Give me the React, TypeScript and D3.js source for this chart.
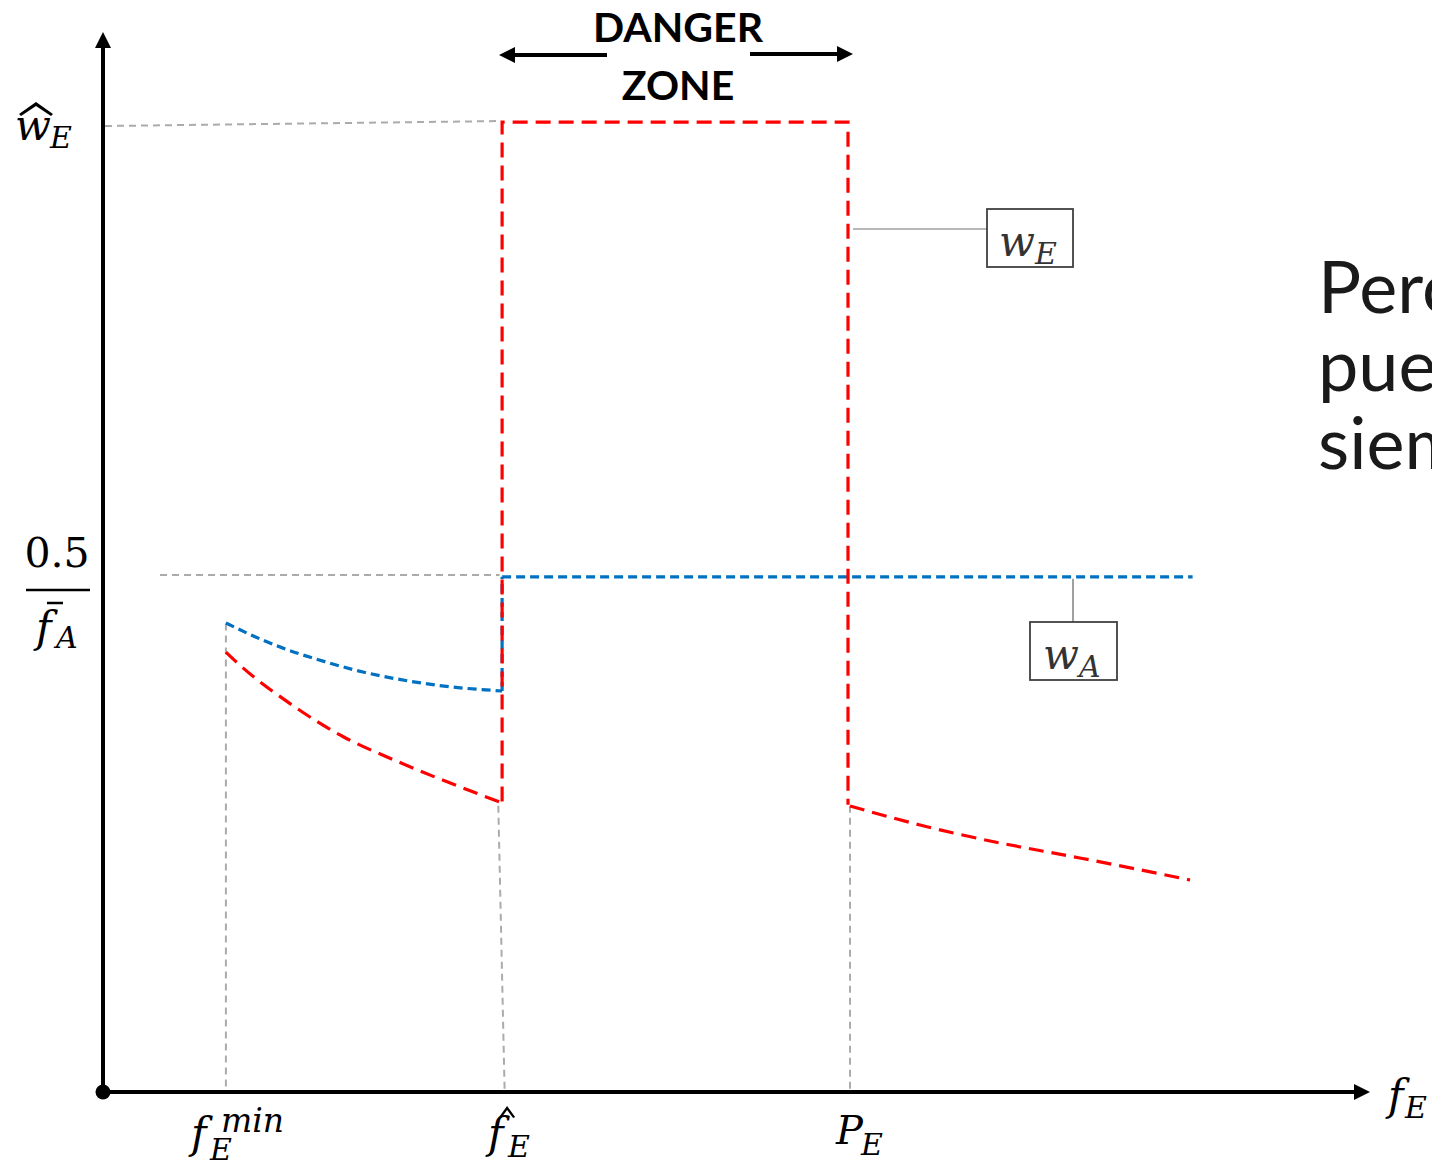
import React from "react";
import * as d3 from "d3";

// ---- data (abstract units) ----
const W = 1432, H = 1164;
const xDomain = [0, 100];
const yDomain = [0, 100];

const fMin = 9.7;
const fHat = 31.5;
const PE = 58.8;
const wAlevel = 48.6;
const xEnd = 86.0;

const redLeftX = [9.7, 12.0, 15.5, 19.0, 22.6, 26.4, 31.3];
const redLeftY = [41.5, 39.06, 36.04, 33.49, 31.51, 29.62, 27.36];
const blueLeftX = [9.7, 12.0, 14.6, 17.5, 20.6, 24.0, 27.6, 31.5];
const blueLeftY = [44.25, 42.95, 41.7, 40.6, 39.6, 38.8, 38.2, 37.83];
const redStepX = [31.5, 31.5, 58.8, 58.8];
const redStepY = [27.4, 91.5, 91.5, 27.1];
const redRightX = [58.96, 64.48, 70.8, 77.1, 85.8];
const redRightY = [26.98, 25.19, 23.49, 22.08, 20.0];

const textLines = ["Pero", "puede", "siempre"];

const RED = "#FF0000";
const BLUE = "#0070C0";
const GRAY = "#ABABAB";
const MATH = "'DejaVu Serif', 'Liberation Serif', serif";

export default function App() {
  const x = d3.scaleLinear().domain(xDomain).range([103, 1370]);
  const y = d3.scaleLinear().domain(yDomain).range([1092, 32]);
  const pts = (xs: number[], ys: number[]) => xs.map((v, i) => [x(v), y(ys[i])] as [number, number]);
  const curve = d3.line().curve(d3.curveNatural);
  const straight = d3.line();

  const redLeft = curve(pts(redLeftX, redLeftY)) || "";
  const blueLeft = curve(pts(blueLeftX, blueLeftY)) || "";
  const redStep = straight(pts(redStepX, redStepY)) || "";
  const redRight = curve(pts(redRightX, redRightY)) || "";
  const blueVert = straight(pts([fHat, fHat], [blueLeftY[blueLeftY.length - 1], wAlevel])) || "";
  const blueHor = straight(pts([fHat, xEnd], [wAlevel, wAlevel])) || "";

  const grayLines = [
    straight(pts([0.16, 31.3], [91.13, 91.6])),
    straight(pts([4.5, 31.3], [48.77, 48.77])),
    straight(pts([fMin, fMin], [44.2, 0])),
    straight(pts([31.2, 31.7], [27.0, 0])),
    straight(pts([58.96, 58.96], [27.0, 0])),
  ];

  const x0 = x(0), y0 = y(0);

  return (
    <svg width={W} height={H} style={{ position: "absolute", left: 0, top: 0, background: "#fff" }}>
      {/* gray reference lines */}
      {grayLines.map((d, i) => (
        <path key={i} d={d || ""} fill="none" stroke={GRAY} strokeWidth={2} strokeDasharray="7,5" />
      ))}

      {/* blue series */}
      <path d={blueLeft} fill="none" stroke={BLUE} strokeWidth={3.2} strokeDasharray="9,5" />
      <path d={blueVert} fill="none" stroke={BLUE} strokeWidth={3.2} strokeDasharray="9,5" />
      <path d={blueHor} fill="none" stroke={BLUE} strokeWidth={3.2} strokeDasharray="9,5" />

      {/* red series */}
      <path d={redLeft} fill="none" stroke={RED} strokeWidth={3.2} strokeDasharray="15,8" />
      <path d={redStep} fill="none" stroke={RED} strokeWidth={3.2} strokeDasharray="15,8" />
      <path d={redRight} fill="none" stroke={RED} strokeWidth={3.2} strokeDasharray="15,8" />

      {/* axes */}
      <line x1={x0} y1={y0} x2={x0} y2={46} stroke="#000" strokeWidth={4} />
      <path d={`M${x0},32 L${x0 - 8},48 L${x0 + 8},48 Z`} fill="#000" />
      <line x1={x0} y1={y0} x2={1356} y2={y0} stroke="#000" strokeWidth={4} />
      <path d={`M1370,${y0} L1354,${y0 - 8} L1354,${y0 + 8} Z`} fill="#000" />
      <circle cx={x0} cy={y0} r={7.5} fill="#000" />

      {/* annotation boxes */}
      <line x1={x(PE) + 5} y1={229} x2={987} y2={229} stroke="#A0A0A0" strokeWidth={1.5} />
      <rect x={987} y={209} width={86} height={58} fill="#fff" stroke="#404040" strokeWidth={1.8} />
      <text x={999} y={256} fontFamily={MATH} fontStyle="italic" fontSize={42} fill="#333">
        w<tspan fontSize={30} dy={8}>E</tspan>
      </text>
      <line x1={1073} y1={y(wAlevel) + 2} x2={1073} y2={622} stroke="#808080" strokeWidth={1.5} />
      <rect x={1030} y={622} width={87} height={58} fill="#fff" stroke="#404040" strokeWidth={1.8} />
      <text x={1043} y={669} fontFamily={MATH} fontStyle="italic" fontSize={42} fill="#333">
        w<tspan fontSize={30} dy={8}>A</tspan>
      </text>

      {/* danger zone */}
      <g fontFamily="Lato, 'Open Sans', sans-serif" fontWeight="bold" fontSize={41} fill="#000" textAnchor="middle">
        <text x={(x(fHat) + x(PE)) / 2 + 3} y={42}>DANGER</text>
        <text x={(x(fHat) + x(PE)) / 2 + 3} y={100}>ZONE</text>
      </g>
      <line x1={607} y1={55} x2={512} y2={55} stroke="#000" strokeWidth={4} />
      <path d="M499,55 L515,47 L515,63 Z" fill="#000" />
      <line x1={750} y1={54} x2={840} y2={54} stroke="#000" strokeWidth={4} />
      <path d="M853,54 L837,46 L837,62 Z" fill="#000" />

      {/* y labels */}
      <g fontFamily={MATH} fontStyle="italic" fill="#000">
        <text x={15} y={140} fontSize={42}>w</text>
        <text x={50} y={148} fontSize={30}>E</text>
        <path d="M19,114 L36,102 L53,114 L51,116 L36,106 L21,116 Z" fill="#000" />
      </g>
      <text x={57} y={567} fontFamily={MATH} fontSize={41} textAnchor="middle">0.5</text>
      <line x1={26} y1={590} x2={90} y2={590} stroke="#000" strokeWidth={2.5} />
      <g fontFamily={MATH} fontStyle="italic" fill="#000">
        <text x={36} y={642} fontSize={42}>f</text>
        <text x={56} y={648} fontSize={30}>A</text>
      </g>
      <line x1={47} y1={603} x2={63} y2={603} stroke="#000" strokeWidth={2.5} />

      {/* x labels */}
      <g fontFamily={MATH} fontStyle="italic" fill="#000">
        <text x={x(fMin) - 35} y={1148} fontSize={42}>f</text>
        <text x={x(fMin) - 16} y={1160} fontSize={30}>E</text>
        <text x={x(fMin) - 5} y={1132} fontSize={33}>min</text>

        <text x={x(fHat) - 14} y={1148} fontSize={42}>f</text>
        <text x={x(fHat) + 6} y={1157} fontSize={30}>E</text>

        <text x={x(PE) - 12} y={1144} fontSize={40}>P</text>
        <text x={x(PE) + 13} y={1155} fontSize={30}>E</text>

        <text x={1388} y={1110} fontSize={42}>f</text>
        <text x={1405} y={1118} fontSize={30}>E</text>
      </g>
      <path d={`M${x(fHat) - 3},1117 L${x(fHat) + 5},1106 L${x(fHat) + 13},1117 L${x(fHat) + 11},1118 L${x(fHat) + 5},1110 L${x(fHat) - 1},1118 Z`} fill="#000" />

      {/* side text */}
      <g fontFamily="Lato, 'Open Sans', sans-serif" fontSize={72} fill="#1a1a1a">
        {textLines.map((t, i) => (
          <text key={i} x={1318} y={313 + i * 78}>{t}</text>
        ))}
      </g>
    </svg>
  );
}
